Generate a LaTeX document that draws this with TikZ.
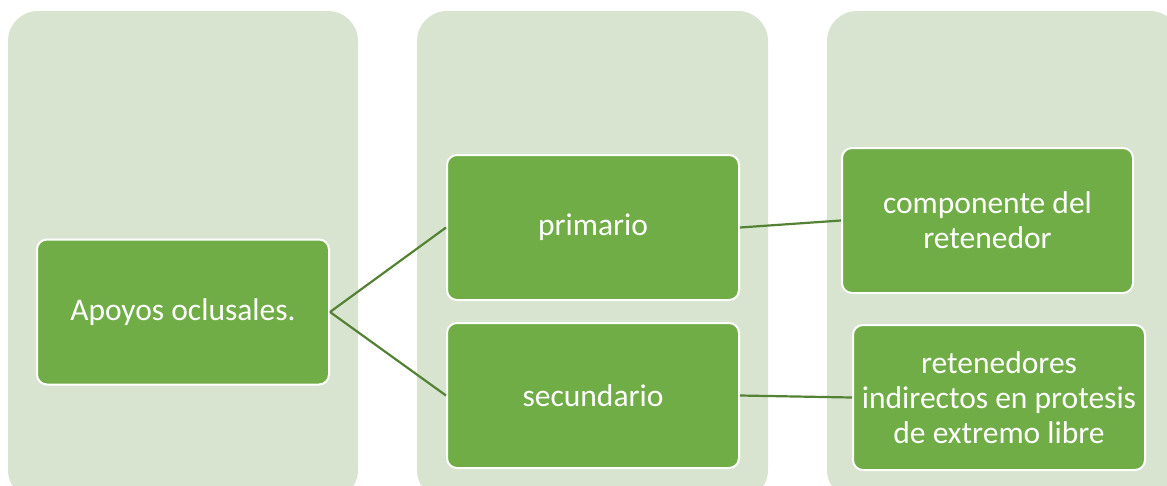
\documentclass[tikz,border=0pt]{standalone}
\usepackage{fontspec}
\setmainfont{Carlito}
\usetikzlibrary{positioning}
\definecolor{colfill}{HTML}{D8E4D0}
\definecolor{boxfill}{HTML}{70AD47}
\definecolor{linkgreen}{HTML}{548235}
\def\bw{292pt}
\def\bh{145pt}
\tikzset{
    column/.style = {
        fill=colfill, rounded corners=30pt
    },
    itembox/.style = {
        rectangle, rounded corners=10pt, fill=boxfill, draw=white, line width=2pt,
        minimum width=\bw, minimum height=\bh, inner sep=0pt, align=center,
        text=white, font=\fontsize{31.5}{35}\selectfont
    },
    link/.style = {
        draw=linkgreen, line width=2.2pt
    },
}
\begin{document}
\begin{tikzpicture}[x=1pt, y=-1pt]
        \useasboundingbox (0,0) rectangle (1167,485);
        \clip (0,0) rectangle (1167,485);

        % Background columns
        \fill[column] (8,11) rectangle (358,500);
        \fill[column] (417,11) rectangle (768,500);
        \fill[column] (827,11) rectangle (1180,500);

        % Place the boxes
        \node[itembox] (apoyos) at (183,312) {Apoyos oclusales.};
        \node[itembox] (primario) at (593,227.5) {primario};
        \node[itembox] (secundario) at (593,395.5) {secundario};
        \node[itembox, minimum width=291pt] (componente) at (987.5,220.5) {componente del\\retenedor};
        \node[itembox] (indirectos) at (999,397.5) {retenedores\\indirectos en protesis\\de extremo libre};

        % Draw connections
        \draw[link] (apoyos.east) -- (primario.west);
        \draw[link] (apoyos.east) -- (secundario.west);
        \draw[link] (primario.east) -- (componente.west);
        \draw[link] (secundario.east) -- (indirectos.west);
    \end{tikzpicture}
\end{document}
